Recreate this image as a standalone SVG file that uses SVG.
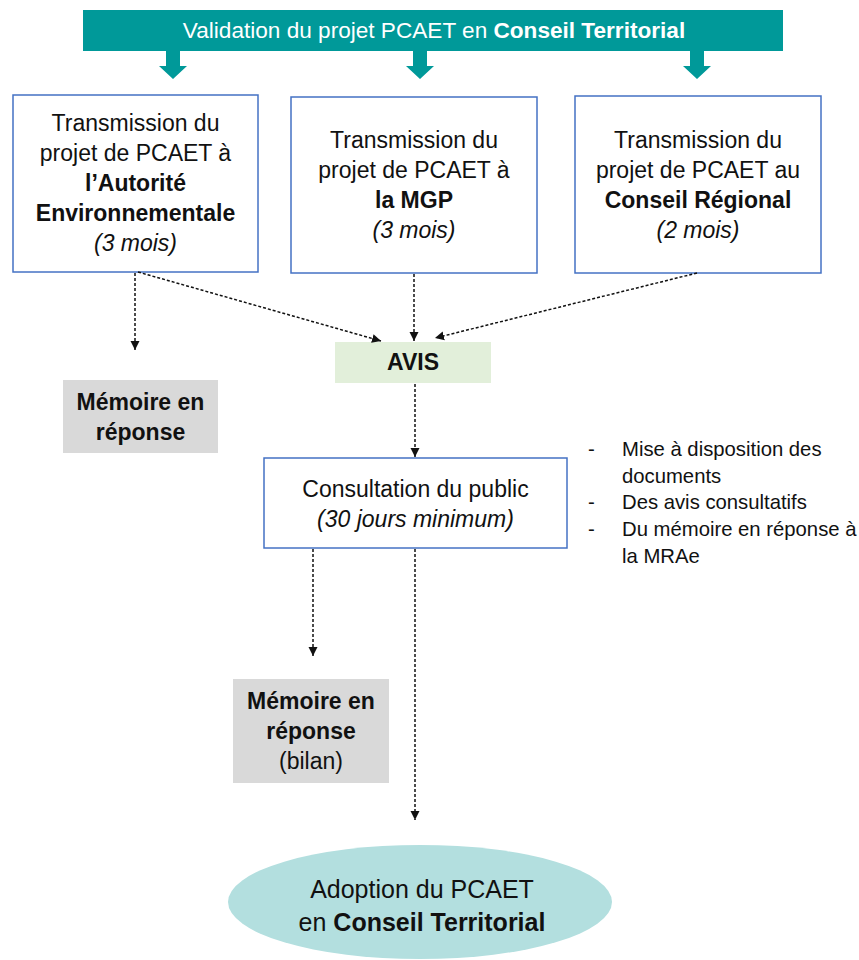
<svg xmlns="http://www.w3.org/2000/svg" width="859" height="960" viewBox="0 0 859 960">
<style>
  text { font-family: "Liberation Sans", Arial, sans-serif; fill: #111; text-anchor: middle; }
  .t22 { font-size: 23px; }
  .b { font-weight: bold; }
  .i { font-style: italic; }
  .box { fill: #fff; stroke: #4472C4; stroke-width: 1.5; }
  .conn { fill: none; stroke: #111; stroke-width: 1.5; stroke-dasharray: 3 2; }
  .bullet { font-size: 20.3px; text-anchor: start; }
</style>
<defs>
  <marker id="ah" markerUnits="userSpaceOnUse" markerWidth="10" markerHeight="10" refX="9" refY="5" orient="auto">
    <path d="M0,0.5 L9,5 L0,9.5 z" fill="#111"/>
  </marker>
</defs>
<rect width="859" height="960" fill="#fff"/>

<g id="banner">
  <rect x="83" y="10" width="700" height="41" fill="#009999"/>
  <text x="434" y="38" style="fill:#fff;font-size:22.6px">Validation du projet PCAET en <tspan class="b">Conseil Territorial</tspan></text>
  <path d="M166,50 h14 v16 h7 l-14,13 l-14,-13 h7 z" fill="#009999"/>
  <path d="M413,50 h14 v16 h7 l-14,13 l-14,-13 h7 z" fill="#009999"/>
  <path d="M690,50 h14 v16 h7 l-14,13 l-14,-13 h7 z" fill="#009999"/>
</g>

<g id="box-ae">
  <rect class="box" x="13" y="95" width="245" height="177"/>
  <text class="t22" x="135.5" y="131">Transmission du</text>
  <text class="t22" x="135.5" y="161">projet de PCAET à</text>
  <text class="t22 b" x="135.5" y="191">l’Autorité</text>
  <text class="t22 b" x="135.5" y="221">Environnementale</text>
  <text class="t22 i" x="135.5" y="251">(3 mois)</text>
</g>

<g id="box-mgp">
  <rect class="box" x="291" y="97" width="246" height="176"/>
  <text class="t22" x="414" y="148">Transmission du</text>
  <text class="t22" x="414" y="178">projet de PCAET à</text>
  <text class="t22 b" x="414" y="208">la MGP</text>
  <text class="t22 i" x="414" y="238">(3 mois)</text>
</g>

<g id="box-cr">
  <rect class="box" x="575" y="96" width="246" height="177"/>
  <text class="t22" x="698" y="148">Transmission du</text>
  <text class="t22" x="698" y="178">projet de PCAET au</text>
  <text class="t22 b" x="698" y="208">Conseil Régional</text>
  <text class="t22 i" x="698" y="238">(2 mois)</text>
</g>

<g id="avis">
  <rect x="335" y="342" width="156" height="41" fill="#E2EFDA"/>
  <text class="t22 b" x="413" y="370">AVIS</text>
</g>

<g id="memoire1">
  <rect x="63" y="380" width="155" height="73" fill="#D9D9D9"/>
  <text class="t22 b" x="140.5" y="410">Mémoire en</text>
  <text class="t22 b" x="140.5" y="440">réponse</text>
</g>

<g id="consultation">
  <rect class="box" x="264" y="458" width="303" height="90"/>
  <text class="t22" x="415.5" y="497">Consultation du public</text>
  <text class="t22 i" x="415.5" y="527">(30 jours minimum)</text>
</g>

<g id="notes">
  <text class="bullet" x="588" y="456">-</text>
  <text class="bullet" x="622" y="456">Mise à disposition des</text>
  <text class="bullet" x="622" y="483">documents</text>
  <text class="bullet" x="588" y="509">-</text>
  <text class="bullet" x="622" y="509">Des avis consultatifs</text>
  <text class="bullet" x="588" y="536">-</text>
  <text class="bullet" x="622" y="536">Du mémoire en réponse à</text>
  <text class="bullet" x="622" y="563">la MRAe</text>
</g>

<g id="memoire2">
  <rect x="233" y="679" width="156" height="104" fill="#D9D9D9"/>
  <text class="t22 b" x="311" y="709">Mémoire en</text>
  <text class="t22 b" x="311" y="739">réponse</text>
  <text class="t22" x="311" y="769">(bilan)</text>
</g>

<g id="adoption">
  <ellipse cx="420" cy="902" rx="192" ry="57" fill="#B3DFDF"/>
  <text x="422" y="898" style="font-size:25px">Adoption du PCAET</text>
  <text x="422" y="931" style="font-size:25px">en <tspan class="b">Conseil Territorial</tspan></text>
</g>

<g id="connectors">
  <line class="conn" x1="135" y1="273" x2="135" y2="350" marker-end="url(#ah)"/>
  <line class="conn" x1="138" y1="272" x2="381" y2="341" marker-end="url(#ah)"/>
  <line class="conn" x1="414" y1="274" x2="414" y2="341" marker-end="url(#ah)"/>
  <line class="conn" x1="697" y1="273" x2="435" y2="338" marker-end="url(#ah)"/>
  <line class="conn" x1="415" y1="384" x2="415" y2="457" marker-end="url(#ah)"/>
  <line class="conn" x1="313" y1="549" x2="313" y2="656" marker-end="url(#ah)"/>
  <line class="conn" x1="415" y1="549" x2="415" y2="820" marker-end="url(#ah)"/>
</g>
</svg>
